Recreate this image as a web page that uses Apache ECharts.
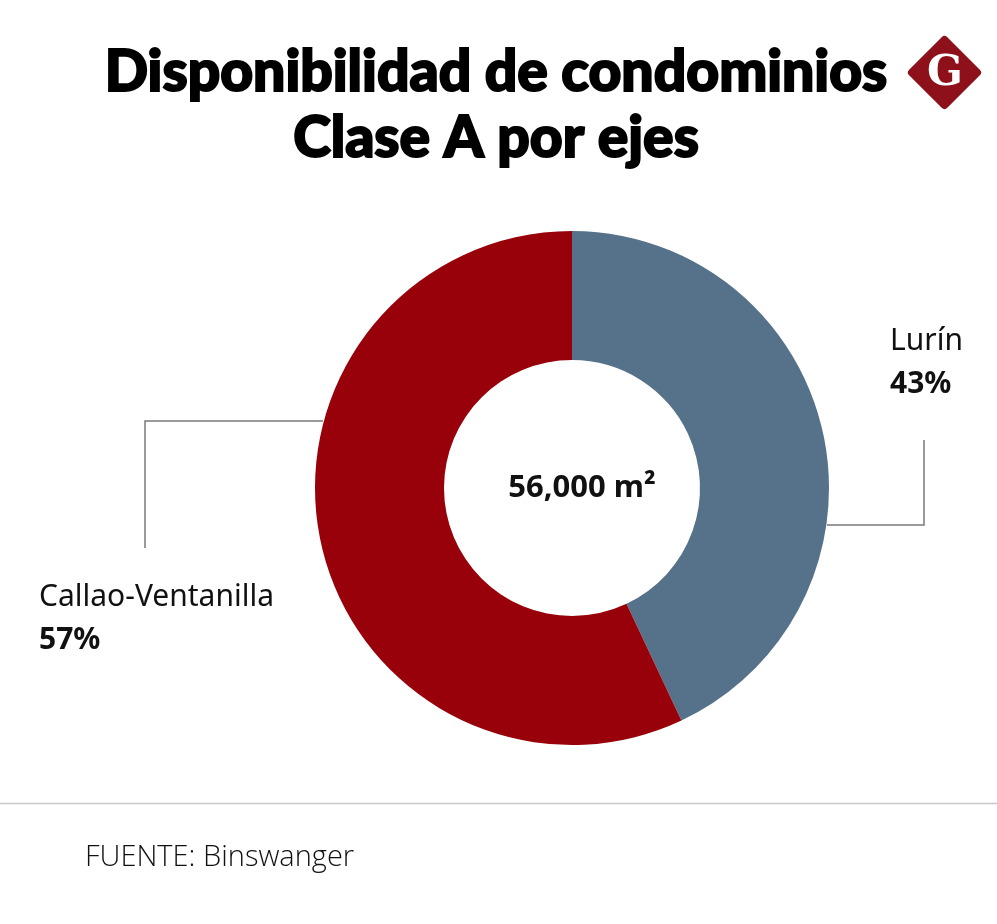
<!DOCTYPE html>
<html lang="es">
<head>
    <meta charset="UTF-8">
    <title>Disponibilidad de condominios Clase A por ejes</title>
    <script src="https://cdn.jsdelivr.net/npm/echarts@6/dist/echarts.min.js"></script>
    <style>
        html, body { margin: 0; padding: 0; background: #fff; }
        #chart { width: 997px; height: 924px; }
    </style>
</head>
<body>
    <div id="chart"></div>

    <script>
        // Datos
        var ejes = ['Lurín', 'Callao-Ventanilla'];
        var porcentajes = [43, 57];
        var colores = ['#56728a', '#98000a'];
        var totalTexto = '56,000 m²';

        var chart = echarts.init(document.getElementById('chart'));

        // posiciones de las etiquetas y sus líneas guía
        var labelPos = [
            { x: 890, y: 320, line: [[827, 525], [924, 525], [924, 440]] },
            { x: 39, y: 576, line: [[323, 421], [145, 421], [145, 548]] }
        ];

        var option = {
            backgroundColor: '#fff',
            animation: false,
            graphic: [
                {
                    type: 'text', x: 496, y: 40, z: 10,
                    style: {
                        text: 'Disponibilidad de condominios\nClase A por ejes',
                        font: '900 57px Lato', fill: '#000',
                        stroke: '#000', lineWidth: 2,
                        align: 'center', lineHeight: 66
                    }
                },
                {
                    type: 'rect', x: 944.5, y: 72.5, rotation: Math.PI / 4,
                    shape: { x: -27, y: -27, width: 54, height: 54, r: 4 },
                    style: { fill: '#8e101a' }
                },
                {
                    type: 'text', x: 945, y: 74,
                    style: {
                        text: 'G', font: 'bold 42px "DejaVu Serif"', fill: '#fff',
                        align: 'center', verticalAlign: 'middle'
                    }
                },
                {
                    type: 'line',
                    shape: { x1: 0, y1: 803.5, x2: 997, y2: 803.5 },
                    style: { stroke: '#c8c8c8', lineWidth: 1.5 }
                },
                {
                    type: 'text', x: 85, y: 843,
                    style: { text: 'FUENTE: Binswanger', font: '300 29px "Open Sans"', fill: '#111' }
                },
                {
                    type: 'text', x: 582, y: 488,
                    style: {
                        text: totalTexto, font: 'bold 31px "Noto Sans"', fill: '#111',
                        align: 'center', verticalAlign: 'middle'
                    }
                }
            ],
            series: [
                {
                    type: 'pie',
                    center: [572, 488],
                    radius: [128, 257],
                    startAngle: 90,
                    clockwise: true,
                    silent: true,
                    avoidLabelOverlap: false,
                    itemStyle: { borderWidth: 0 },
                    label: {
                        show: true,
                        formatter: '{n|{b}}\n{p|{c}%}',
                        rich: {
                            n: { fontFamily: 'Noto Sans', fontSize: 30, color: '#111', lineHeight: 43 },
                            p: { fontFamily: 'Noto Sans', fontSize: 30, fontWeight: 'bold', color: '#111', lineHeight: 43 }
                        }
                    },
                    labelLine: {
                        show: true,
                        lineStyle: { color: '#7a7a7a', width: 1.5 }
                    },
                    labelLayout: function (params) {
                        var p = labelPos[params.dataIndex];
                        return {
                            x: p.x, y: p.y, align: 'left', verticalAlign: 'top',
                            labelLinePoints: p.line
                        };
                    },
                    data: ejes.map(function (n, i) {
                        return { name: n, value: porcentajes[i], itemStyle: { color: colores[i] } };
                    })
                }
            ]
        };

        chart.setOption(option);
    </script>
</body>
</html>
